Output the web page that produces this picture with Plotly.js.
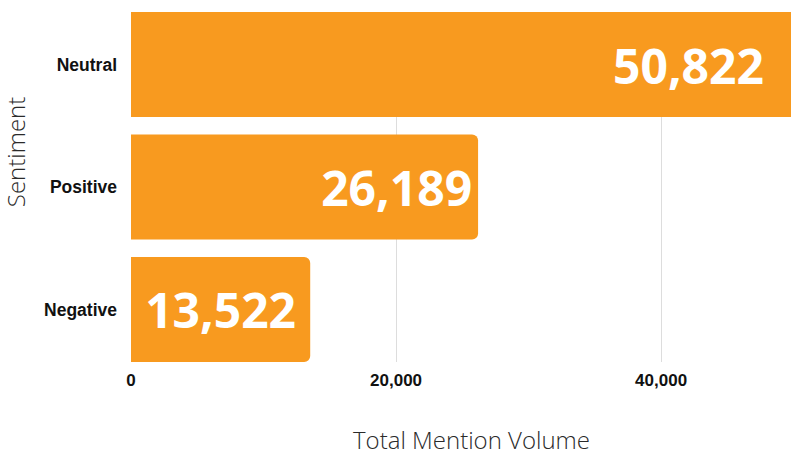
<!DOCTYPE html>
<html>
<head>
<meta charset="utf-8">
<script src="https://cdn.plot.ly/plotly-3.0.1.min.js"></script>
<style>html,body{margin:0;padding:0;background:#fff;}#chart{width:791px;height:455px;}</style>
</head>
<body>
<div id="chart"></div>
<script>
var categories = ['Negative', 'Positive', 'Neutral'];
var mentionVolume = [13522, 26189, 50822];
var valueLabels = ['13,522', '26,189', '50,822'];
var xTickValues = [0, 20000, 40000];
var xTickLabels = ['0', '20,000', '40,000'];
var xMax = 49800;

// per-bar label placement (style only)
var labelAnchors = ['middle', 'end', 'end'];
var labelFont = {family: '"Open Sans", sans-serif', size: 48, color: '#ffffff', weight: 700};

var traces = categories.map(function (cat, i) {
  var clipped = mentionVolume[i] > xMax;
  return {
    type: 'bar',
    orientation: 'h',
    y: [cat],
    x: [mentionVolume[i]],
    text: [clipped ? '' : valueLabels[i]],
    textposition: 'inside',
    insidetextanchor: labelAnchors[i],
    constraintext: 'none',
    textfont: labelFont,
    marker: {color: '#F89A1F', line: {width: 0}},
    hoverinfo: 'none',
    showlegend: false
  };
});

// labels of bars running past the axis end sit at the visible end of the bar
var barAnnotations = [];
categories.forEach(function (cat, i) {
  if (mentionVolume[i] > xMax) {
    barAnnotations.push({
      text: valueLabels[i], xref: 'x', yref: 'y', x: xMax, y: cat,
      xanchor: 'right', yanchor: 'middle', xshift: -26, yshift: -1, showarrow: false, borderpad: 0,
      font: labelFont
    });
  }
});

var layout = {
  width: 791,
  height: 455,
  margin: {l: 131, r: 0, t: 12, b: 93},
  paper_bgcolor: '#ffffff',
  plot_bgcolor: '#ffffff',
  showlegend: false,
  barmode: 'overlay',
  bargap: 0.143,
  barcornerradius: 6,
  xaxis: {
    range: [0, xMax],
    tickvals: xTickValues,
    ticktext: xTickLabels,
    showgrid: true,
    gridcolor: '#dddddd',
    gridwidth: 1,
    zeroline: false,
    showline: false,
    ticks: '',
    ticklabelstandoff: 6,
    tickfont: {family: '"Liberation Sans", Arial, sans-serif', size: 17, color: '#111111', weight: 700},
    fixedrange: true
  },
  yaxis: {
    categoryorder: 'array',
    categoryarray: categories,
    range: [-0.4286, 2.4286],
    showgrid: false,
    zeroline: false,
    showline: false,
    ticks: '',
    ticklabelstandoff: 13,
    tickfont: {family: '"Liberation Sans", Arial, sans-serif', size: 17.5, color: '#111111', weight: 700},
    fixedrange: true
  },
  annotations: barAnnotations.concat([
    {text: 'Total Mention Volume', xref: 'paper', yref: 'paper', x: 0.516, y: -0.222, xanchor: 'center', yanchor: 'middle', showarrow: false, borderpad: 0,
     font: {family: '"Open Sans", sans-serif', size: 24, color: '#2a2a2a', weight: 300}},
    {text: 'Sentiment', xref: 'paper', yref: 'paper', x: -0.1755, y: 0.6, xanchor: 'center', yanchor: 'middle', textangle: -90, showarrow: false, borderpad: 0,
     font: {family: '"Open Sans", sans-serif', size: 24, color: '#2a2a2a', weight: 300}}
  ])
};

Plotly.newPlot('chart', traces, layout, {displayModeBar: false, staticPlot: true});
</script>
</body>
</html>
